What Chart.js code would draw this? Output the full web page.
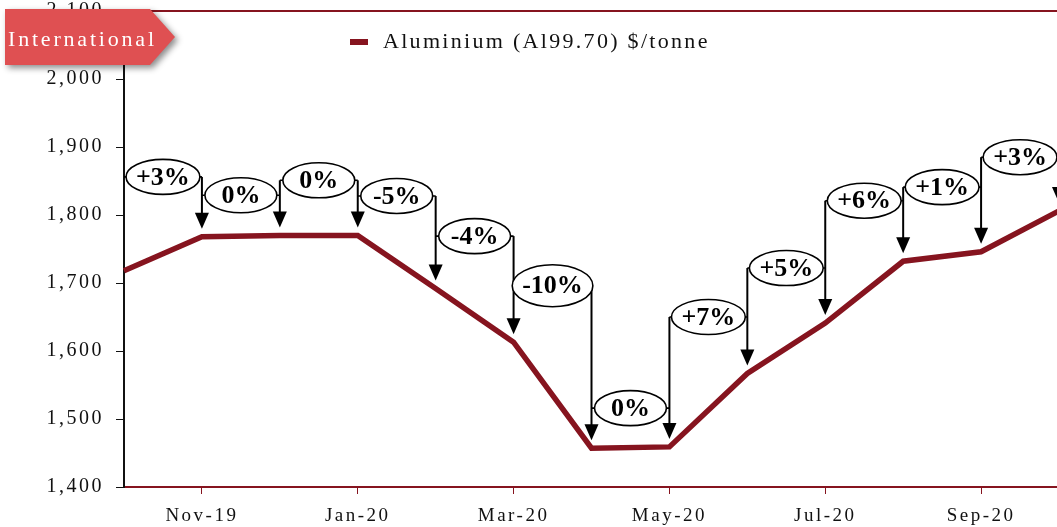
<!DOCTYPE html>
<html>
<head>
<meta charset="utf-8">
<script src="https://cdn.jsdelivr.net/npm/chart.js@4"></script>
<style>
  html, body { margin: 0; padding: 0; overflow: hidden; background: #fff; }
  canvas { display: block; }
</style>
</head>
<body>
<canvas id="alChart" width="1070" height="527"></canvas>
<script>
const months = ["Oct-19", "Nov-19", "Dec-19", "Jan-20", "Feb-20", "Mar-20", "Apr-20",
                "May-20", "Jun-20", "Jul-20", "Aug-20", "Sep-20", "Oct-20"];
const aluminium = [1718, 1768, 1770, 1770, 1692, 1613, 1457, 1459, 1567, 1641, 1732, 1746, 1806];
// month-on-month change labels and the price level each callout sits at
const changeLabels = ["+3%", "0%", "0%", "-5%", "-4%", "-10%", "0%", "+7%", "+5%", "+6%", "+1%", "+3%"];
const calloutLevels = [1856, 1829, 1851, 1828, 1769, 1696, 1516, 1650, 1722, 1821, 1841, 1885];
const yTicks = [1400, 1500, 1600, 1700, 1800, 1900, 2000, 2100];

const darkRed = "#86141f";
const serif = "'Liberation Serif', 'DejaVu Serif', serif";

const callouts = {
  id: "callouts",
  beforeDraw(chart) {
    // wider tracking for the axis labels, closer to the original typeface
    chart.ctx.letterSpacing = "2.5px";
  },
  afterDatasetsDraw(chart) {
    const { ctx } = chart;
    const xs = chart.scales.x, ys = chart.scales.y;
    const meta = chart.getDatasetMeta(0);
    ctx.save();
    ctx.letterSpacing = "0px";
    ctx.strokeStyle = "#000";
    ctx.fillStyle = "#000";
    // vertical arrows down to each month's point
    for (let i = 1; i < months.length; i++) {
      const x = xs.getPixelForValue(i);
      let top = ys.getPixelForValue(calloutLevels[i - 1]);
      if (i < calloutLevels.length) top = Math.min(top, ys.getPixelForValue(calloutLevels[i]));
      const tip = meta.data[i].y - 8;
      ctx.lineWidth = 2;
      ctx.beginPath();
      ctx.moveTo(x, top);
      ctx.lineTo(x, tip - 14);
      ctx.stroke();
      ctx.beginPath();
      ctx.moveTo(x - 7, tip - 16);
      ctx.lineTo(x + 7, tip - 16);
      ctx.lineTo(x, tip);
      ctx.closePath();
      ctx.fill();
    }
    // ellipses with labels
    ctx.font = "bold 26px " + serif;
    ctx.textAlign = "center";
    ctx.textBaseline = "middle";
    for (let k = 0; k < changeLabels.length; k++) {
      const x0 = xs.getPixelForValue(k), x1 = xs.getPixelForValue(k + 1);
      const cx = (x0 + x1) / 2;
      const cy = ys.getPixelForValue(calloutLevels[k]);
      const tw = ctx.measureText(changeLabels[k]).width;
      const rx = Math.max(tw / 2 + 10, (x1 - x0) / 2 - 3);
      const ry = changeLabels[k].length > 3 ? 21 : 17.5;
      ctx.lineWidth = 1.6;
      ctx.beginPath();
      ctx.moveTo(x0, cy);
      ctx.lineTo(x1, cy);
      ctx.stroke();
      ctx.beginPath();
      ctx.ellipse(cx, cy, rx, ry, 0, 0, Math.PI * 2);
      ctx.fillStyle = "#fff";
      ctx.fill();
      ctx.stroke();
      ctx.fillStyle = "#000";
      ctx.fillText(changeLabels[k], cx, cy + 1);
    }
    ctx.restore();
  },
  afterDraw(chart) {
    const { ctx, chartArea } = chart;
    ctx.save();
    // top frame line
    ctx.strokeStyle = darkRed;
    ctx.lineWidth = 2;
    ctx.beginPath();
    ctx.moveTo(chartArea.left, chartArea.top);
    ctx.lineTo(chartArea.right, chartArea.top);
    ctx.stroke();
    // legend
    ctx.fillStyle = darkRed;
    ctx.fillRect(350, 39, 18, 6);
    ctx.fillStyle = "#111";
    ctx.font = "22px " + serif;
    ctx.textBaseline = "middle";
    ctx.textAlign = "left";
    ctx.letterSpacing = "2.3px";
    ctx.fillText(chart.data.datasets[0].label, 383, 42);
    // "International" tag
    ctx.shadowColor = "rgba(0,0,0,0.45)";
    ctx.shadowBlur = 6;
    ctx.shadowOffsetX = 3;
    ctx.shadowOffsetY = 3;
    ctx.fillStyle = "#df5052";
    ctx.beginPath();
    ctx.moveTo(5, 9);
    ctx.lineTo(150, 9);
    ctx.lineTo(175, 37);
    ctx.lineTo(150, 65);
    ctx.lineTo(5, 65);
    ctx.closePath();
    ctx.fill();
    ctx.shadowColor = "transparent";
    ctx.fillStyle = "#fff";
    ctx.font = "22px " + serif;
    ctx.letterSpacing = "2.8px";
    ctx.fillText("International", 8, 40);
    ctx.restore();
  }
};

new Chart(document.getElementById("alChart"), {
  type: "line",
  data: {
    labels: months,
    datasets: [{
      label: "Aluminium (Al99.70) $/tonne",
      data: aluminium,
      borderColor: darkRed,
      borderWidth: 5.5,
      pointRadius: 0,
      tension: 0,
      fill: false
    }]
  },
  options: {
    responsive: false,
    animation: false,
    layout: { padding: { top: 11, right: 7, left: 0, bottom: 0 } },
    plugins: { legend: { display: false }, tooltip: { enabled: false } },
    scales: {
      x: {
        offset: false,
        border: { color: darkRed, width: 2 },
        grid: {
          drawOnChartArea: false,
          tickLength: 7,
          tickColor: c => (c.index % 2 === 1 ? darkRed : "transparent")
        },
        ticks: {
          autoSkip: false,
          maxRotation: 0,
          padding: 11,
          color: "#111",
          font: { family: serif, size: 19 },
          callback: (v, i) => (i % 2 === 1 ? months[i] : "")
        },
        afterFit: s => { s.height = 40; }
      },
      y: {
        min: 1400,
        max: 2100,
        border: { color: "#111", width: 2 },
        grid: { drawOnChartArea: false, tickLength: 8, tickColor: "#111" },
        afterBuildTicks: s => { s.ticks = yTicks.map(v => ({ value: v })); },
        ticks: {
          padding: 12,
          color: "#111",
          font: { family: serif, size: 20 },
          callback: v => v.toLocaleString("en-US")
        },
        afterFit: s => { s.width = 124; s.paddingTop = 0; s.paddingBottom = 0; }
      }
    }
  },
  plugins: [callouts]
});
</script>
</body>
</html>
